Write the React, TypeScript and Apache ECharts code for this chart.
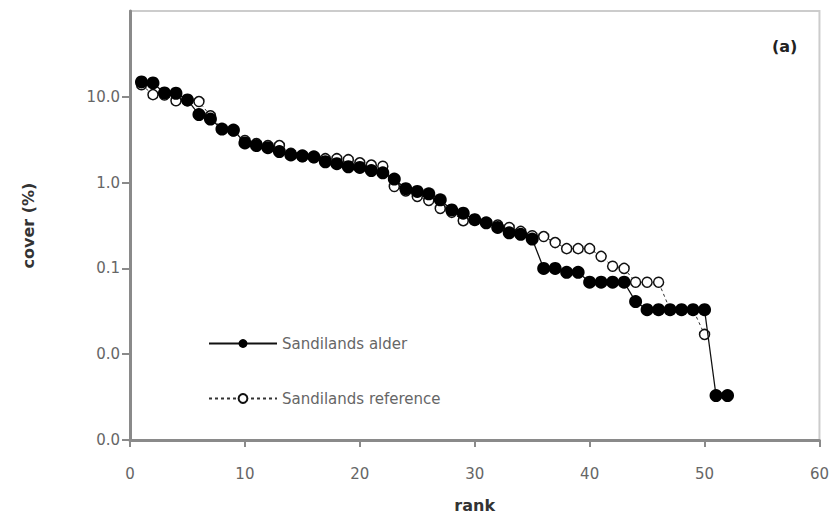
import React, { useEffect, useRef } from "react";
import * as echarts from "echarts";

const ranksAlder = [1,2,3,4,5,6,7,8,9,10,11,12,13,14,15,16,17,18,19,20,21,22,23,24,25,26,27,28,29,30,31,32,33,34,35,36,37,38,39,40,41,42,43,44,45,46,47,48,49,50,51,52];
const alder = [14.9,14.5,11.1,11,9.2,6.2,5.5,4.2,4.1,2.9,2.7,2.55,2.3,2.1,2.05,2.0,1.75,1.66,1.53,1.5,1.38,1.3,1.1,0.85,0.79,0.74,0.63,0.48,0.44,0.37,0.34,0.30,0.26,0.25,0.22,0.10,0.10,0.09,0.09,0.069,0.069,0.069,0.069,0.041,0.033,0.033,0.033,0.033,0.033,0.033,0.0033,0.0033];
const ranksRef = [1,2,3,4,5,6,7,8,9,10,11,12,13,14,15,16,17,18,19,20,21,22,23,24,25,26,27,28,29,30,31,32,33,34,35,36,37,38,39,40,41,42,43,44,45,46,47,48,49,50];
const reference = [13.8,10.6,10.5,9,9,8.8,6.0,4.2,4.0,3.1,2.85,2.7,2.7,2.2,2.0,1.95,1.9,1.9,1.85,1.7,1.6,1.55,0.9,0.8,0.69,0.62,0.5,0.45,0.36,0.37,0.34,0.32,0.3,0.27,0.24,0.235,0.2,0.17,0.17,0.17,0.138,0.106,0.1,0.069,0.069,0.069,0.033,0.033,0.033,0.017];
const yTicks = [0.001, 0.01, 0.1, 1, 10];

export default function App() {
  const ref = useRef<HTMLDivElement>(null);
  useEffect(() => {
    const chart = echarts.init(ref.current!, null, { renderer: "svg" });
    const font = "DejaVu Sans, Verdana, sans-serif";
    chart.setOption({
      animation: false,
      backgroundColor: "#fff",
      grid: { left: 130, right: 12, top: 11, bottom: 82, show: true, borderColor: "#cccccc", borderWidth: 2 },
      xAxis: {
        type: "value", min: 0, max: 60, interval: 10,
        name: "rank", nameLocation: "middle", nameGap: 57,
        nameTextStyle: { fontFamily: font, fontWeight: "bold", fontSize: 16, color: "#333" },
        axisLine: { show: true, lineStyle: { color: "#8a8a8a", width: 3 } },
        axisTick: { show: true, inside: false, length: 7, lineStyle: { color: "#8a8a8a", width: 2 } },
        axisLabel: { fontFamily: font, fontSize: 15, color: "#666", margin: 26 },
        splitLine: { show: false },
      },
      yAxis: {
        type: "log", logBase: 10, min: 0.001, max: 100,
        name: "cover (%)", nameLocation: "middle", nameGap: 94,
        nameTextStyle: { fontFamily: font, fontWeight: "bold", fontSize: 16, color: "#333" },
        axisLine: { show: true, lineStyle: { color: "#8a8a8a", width: 3 } },
        axisTick: { show: true, inside: false, length: 8, lineStyle: { color: "#8a8a8a", width: 2 }, customValues: yTicks },
        axisLabel: {
          fontFamily: font, fontSize: 15, color: "#666", margin: 10, customValues: yTicks,
          formatter: (v: number) => (v >= 100 ? "" : v.toFixed(1)),
        },
        splitLine: { show: false },
        minorTick: { show: false },
      },
      legend: {
        orient: "vertical", left: 203, top: 331, itemWidth: 68, itemHeight: 11, itemGap: 40,
        data: ["Sandilands alder", "Sandilands reference"],
        textStyle: { fontFamily: font, fontSize: 15, color: "#666" },
      },
      graphic: [
        { type: "text", left: 772, top: 38, style: { text: "(a)", fontFamily: font, fontWeight: "bold", fontSize: 16, fill: "#222" } },
      ],
      series: [
        {
          name: "Sandilands reference", type: "line",
          data: ranksRef.map((r, i) => [r, reference[i]]),
          symbol: "circle", symbolSize: 10,
          lineStyle: { color: "#333", width: 1, type: [3, 3] },
          itemStyle: { color: "#fff", borderColor: "#111", borderWidth: 1.5 },
          z: 2,
        },
        {
          name: "Sandilands alder", type: "line",
          data: ranksAlder.map((r, i) => [r, alder[i]]),
          symbol: "circle", symbolSize: 13,
          lineStyle: { color: "#111", width: 1.3 },
          itemStyle: { color: "#000", borderColor: "#000", borderWidth: 0 },
          z: 3,
        },
      ],
    });
    return () => chart.dispose();
  }, []);
  return <div ref={ref} style={{ width: 832, height: 522, position: "absolute", left: 0, top: 0 }} />;
}
